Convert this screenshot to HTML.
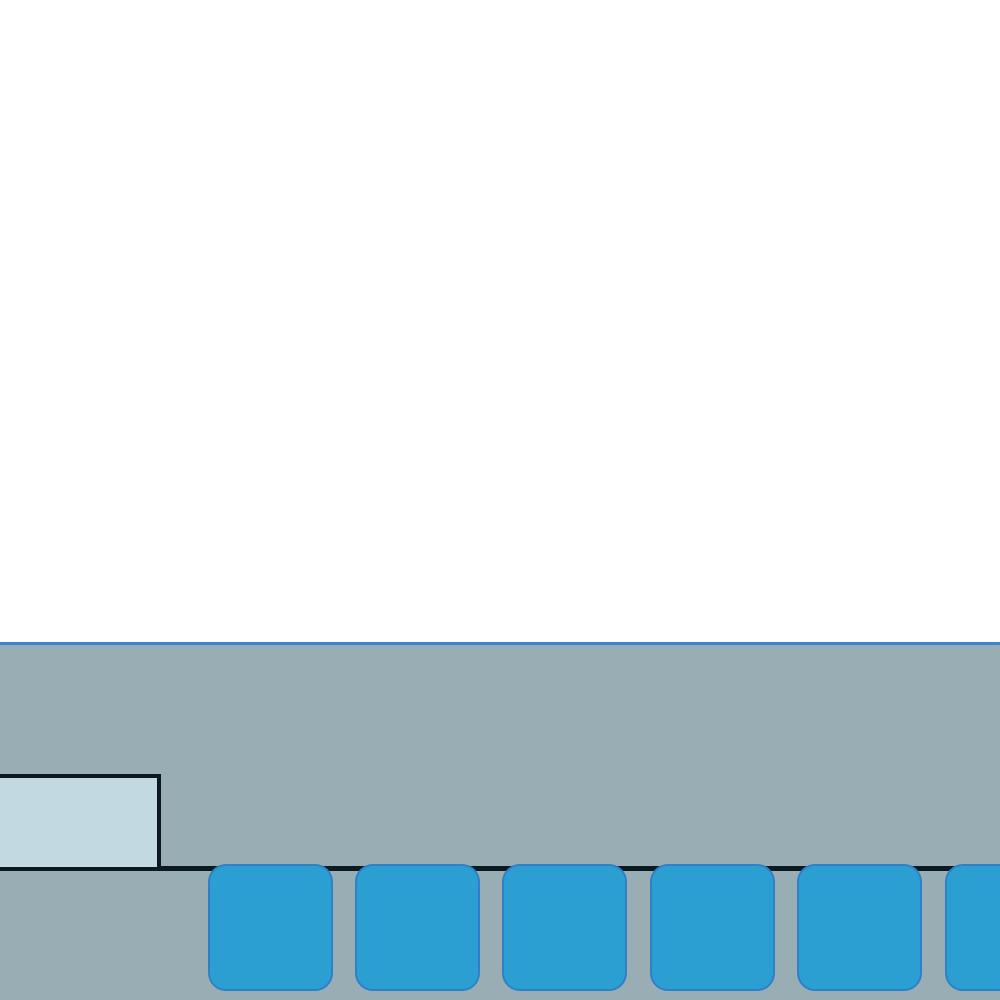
<!DOCTYPE html>
<html><head><style>
html,body{margin:0;padding:0;width:1000px;height:1000px;overflow:hidden;background:#fff;position:relative;font-family:"Liberation Sans",sans-serif}
.bar{position:absolute;left:0;top:642px;width:1000px;height:3px;background:#3c86c8}
.bg{position:absolute;left:0;top:645px;width:1000px;height:355px;background:#99adb5}
.box{position:absolute;left:-5px;top:774px;width:158px;height:89px;background:#c2d9e1;border:4px solid #0b1a20}
.line{position:absolute;left:0;top:866px;width:1000px;height:5px;background:#0b1a20}
.t{position:absolute;top:864px;width:121px;height:123px;background:#2c9fd2;border:2px solid #2f80c8;border-radius:18px;box-sizing:content-box}
</style></head><body>
<div class="bar"></div>
<div class="bg"></div>
<div class="line"></div>
<div class="box"></div>
<div class="t" style="left:208px"></div>
<div class="t" style="left:355px"></div>
<div class="t" style="left:502px"></div>
<div class="t" style="left:650px"></div>
<div class="t" style="left:797px"></div>
<div class="t" style="left:945px"></div>
</body></html>
